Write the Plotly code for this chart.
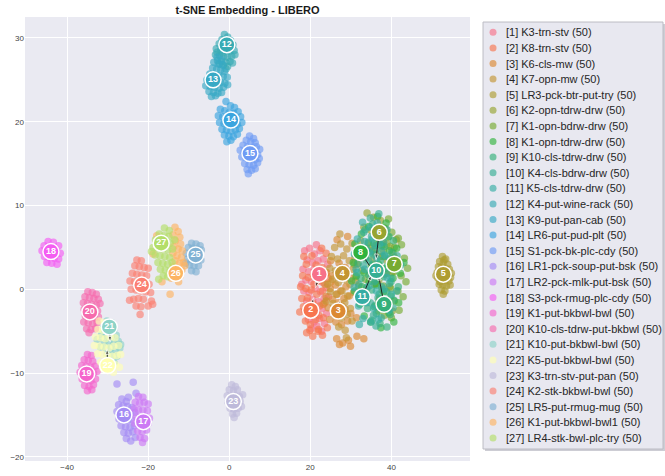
import math
import plotly.graph_objects as go

FONT = "Liberation Sans, Arial, sans-serif"

task_names = [
    "K3-trn-stv", "K8-trn-stv", "K6-cls-mw", "K7-opn-mw", "LR3-pck-btr-put-try",
    "K2-opn-tdrw-drw", "K1-opn-bdrw-drw", "K1-opn-tdrw-drw", "K10-cls-tdrw-drw",
    "K4-cls-bdrw-drw", "K5-cls-tdrw-drw", "K4-put-wine-rack", "K9-put-pan-cab",
    "LR6-put-pud-plt", "S1-pck-bk-plc-cdy", "LR1-pck-soup-put-bsk", "LR2-pck-mlk-put-bsk",
    "S3-pck-rmug-plc-cdy", "K1-put-bkbwl-bwl", "K10-cls-tdrw-put-bkbwl", "K10-put-bkbwl-bwl",
    "K5-put-bkbwl-bwl", "K3-trn-stv-put-pan", "K2-stk-bkbwl-bwl", "LR5-put-rmug-mug",
    "K1-put-bkbwl-bwl1", "LR4-stk-bwl-plc-try"]
sample_counts = [50] * 27

pts_01 = [(18.6,4.6),(19.8,4.9),(21.0,4.2),(22.4,4.6),(19.2,3.5),(20.5,3.2),(21.9,3.4),(23.2,3.6),
          (18.2,2.4),(19.6,2.1),(20.9,2.4),(22.6,2.2),(23.8,1.9),(18.9,1.1),(20.3,0.9),(21.7,1.2),(23.1,0.8),
          (18.4,-0.2),(19.7,-0.4),(21.2,0.1),(22.5,-0.3),(23.9,0.2),(19.1,-1.4),(20.6,-1.2),(22.0,-1.5),(23.4,-1.1),
          (18.7,-2.6),(20.1,-2.4),(21.5,-2.8),(22.9,-2.3),(24.0,-2.9),(19.5,-3.6),(20.9,-3.9),(22.3,-3.5),(23.5,-4.1),
          (20.2,-4.7),(21.6,-4.4),(22.8,-5.0),(24.3,3.0),(24.5,-0.9),(21.5,5.3),(17.9,0.6)]
pts_02 = [(22.8,4.9),(23.9,4.3),(20.4,4.0),(19.0,3.0),(21.4,2.9),(22.9,2.6),(18.1,1.6),(19.5,1.4),(20.8,1.7),(22.2,1.0),
          (17.6,0.3),(18.9,0.1),(20.2,-0.1),(21.6,-0.6),(23.0,-0.2),(17.9,-1.1),(19.3,-1.0),(20.7,-1.7),(22.3,-2.0),(23.6,-1.6),
          (18.3,-2.1),(19.8,-2.9),(21.1,-2.2),(22.1,-3.1),(23.2,-3.4),(18.8,-3.8),(20.0,-4.2),(21.3,-3.6),(19.1,-5.2),(20.6,-5.6),
          (22.0,-4.8),(23.0,-5.5),(24.2,-4.6),(17.4,-2.7),(21.9,-5.0),(19.9,-4.9),(18.4,3.9),(24.4,1.3),(20.9,0.6),(19.6,-1.9)]
pts_03 = [(24.0,2.0),(25.3,1.6),(26.6,1.9),(27.9,1.4),(23.6,0.6),(24.9,0.1),(26.2,0.5),(27.5,-0.2),(28.8,0.3),
          (23.9,-0.9),(25.5,-1.2),(26.9,-1.6),(28.3,-1.1),(29.6,-0.8),(24.4,-2.2),(25.8,-2.6),(27.2,-2.9),(28.6,-2.4),
          (30.0,-2.9),(24.8,-3.6),(26.3,-3.9),(27.7,-4.2),(29.2,-3.8),(31.4,-3.4),(25.0,3.4),(27.1,3.1),(28.6,2.6),
          (23.2,-1.8),(26.6,-0.6),(25.1,0.9),(27.8,-2.0),(29.8,1.3),
          (26.5,-5.9),(28.0,-6.4),(29.4,-6.1),(27.2,-6.6),(29.9,-6.8),(31.5,-5.6),(33.2,-5.9),(26.6,5.9),(29.2,6.3)]
pts_04 = [(26.0,5.0),(27.5,5.4),(29.0,4.8),(30.3,5.5),(25.2,3.9),(26.7,3.6),(28.2,4.0),(29.6,3.4),(31.0,3.8),
          (24.8,2.5),(26.2,2.2),(27.7,2.6),(29.1,2.0),(30.5,2.4),(25.5,1.2),(26.9,0.8),(28.4,1.1),(29.8,0.6),(31.2,1.0),
          (24.9,-0.3),(26.4,-0.6),(27.8,-0.2),(29.2,-0.8),(30.7,-0.4),(25.6,-1.7),(27.0,-2.0),(28.5,-1.6),(29.9,-2.3),
          (26.2,-3.1),(27.7,-3.4),(29.1,-3.0),(30.3,-3.8),(27.0,-4.5),(28.6,-4.9),(24.3,0.6),(32.0,-1.2),(31.6,3.0),
          (27.3,6.6),(23.9,-1.4),(28.9,-5.8)]
pts_05 = [(52.6,3.9),(53.4,3.6),(51.9,3.3),(52.8,3.2),(53.9,3.0),(51.6,2.7),(52.4,2.6),(53.3,2.5),(54.3,2.4),
          (51.3,2.0),(52.2,1.9),(53.1,1.8),(54.0,1.7),(54.8,1.9),(51.5,1.3),(52.4,1.2),(53.3,1.1),(54.2,1.0),
          (51.8,0.6),(52.7,0.5),(53.6,0.4),(54.5,0.5),(52.3,-0.1),(53.2,-0.2),(52.8,-0.6),(53.0,3.5),(52.0,0.9),
          (53.8,2.1),(51.0,1.6),(54.6,1.4)]
pts_06 = [(34.0,9.1),(35.6,8.6),(37.3,8.2),(33.2,7.4),(35.0,7.0),(36.8,6.8),(38.6,7.2),(32.4,5.8),(34.3,5.5),
          (36.1,5.2),(37.9,5.6),(39.7,5.1),(41.2,5.9),(31.6,4.1),(33.5,3.8),(35.3,3.5),(37.2,3.9),(39.0,3.4),
          (40.8,3.8),(30.8,3.0),(32.8,2.2),(34.6,1.9),(36.5,2.4),(38.3,1.8),(40.1,2.0),(31.9,0.4),(33.9,0.1),
          (35.8,0.6),(37.7,-0.1),(39.6,0.3),(31.2,1.5),(37.0,-1.3),(38.9,-2.0),(40.2,-2.6),(36.9,1.1),(35.1,4.6),(38.0,4.7)]
pts_07 = [(38.2,7.3),(40.1,6.8),(41.7,6.1),(37.0,5.9),(38.9,5.4),(40.7,5.0),(42.5,5.3),(36.1,4.2),(37.9,3.9),
          (39.7,3.6),(41.5,3.2),(43.2,3.7),(35.3,2.6),(37.1,2.2),(38.9,1.9),(40.6,2.1),(42.4,1.6),(43.6,0.9),
          (36.2,0.7),(38.0,0.4),(39.8,0.1),(41.6,-0.2),(42.9,-0.9),(37.1,-1.1),(38.9,-1.6),(40.7,-1.4),(41.9,-2.5),
          (38.3,-3.1),(40.0,-3.4),(34.6,4.9),(39.3,8.4),(44.0,2.5),(33.6,1.2),(36.8,-2.6),(39.2,6.2),(40.4,4.3)]
pts_08 = [(31.0,5.4),(32.6,6.6),(34.4,7.5),(36.6,8.7),(38.7,7.9),(30.6,3.2),(32.2,3.9),(33.9,4.6),(35.7,5.5),
          (37.6,5.2),(39.5,4.6),(41.3,4.9),(43.1,3.2),(31.4,1.6),(33.2,2.0),(35.0,2.8),(36.8,3.0),(38.6,2.5),
          (40.4,1.3),(42.2,1.9),(30.9,-0.2),(32.7,0.3),(34.5,0.9),(36.3,0.5),(38.1,-0.3),(39.9,-0.8),(41.8,-1.6),
          (32.2,-1.8),(34.0,-1.3),(35.8,-2.1),(37.6,-1.7),(39.4,-2.8),(34.9,-3.9),(37.4,-4.6),(33.3,-3.2),
          (40.6,-3.9),(36.0,6.9),(30.2,1.0)]
pts_09 = [(33.5,7.1),(35.4,7.8),(37.5,7.0),(39.4,6.3),(32.4,5.0),(34.3,5.6),(36.2,4.8),(38.2,5.1),(40.1,4.4),
          (31.8,3.1),(33.6,3.6),(35.4,3.0),(37.3,3.4),(39.1,2.8),(41.0,2.6),(32.5,1.3),(34.4,1.7),(36.2,1.1),
          (38.0,1.5),(39.9,0.9),(41.7,0.3),(33.3,-0.5),(35.1,-0.1),(37.0,-0.6),(38.8,-0.3),(40.6,-1.3),(34.1,-2.3),
          (36.0,-1.9),(37.9,-2.4),(39.7,-3.0),(35.2,-3.7),(37.2,-4.1),(38.9,-4.5),(36.6,2.6),(38.4,3.9),(34.8,4.3),
          (40.5,5.8),(36.3,-2.9)]
pts_10 = [(34.8,8.5),(36.9,9.0),(33.2,6.8),(35.1,6.3),(37.0,6.6),(38.9,7.1),(31.9,4.4),(33.8,4.9),(35.7,4.1),
          (37.6,4.5),(39.5,3.7),(41.4,4.0),(31.3,2.4),(33.1,2.8),(35.0,2.1),(36.9,2.6),(38.7,2.0),(40.6,2.4),
          (42.3,2.9),(32.0,0.6),(33.9,0.2),(35.8,0.9),(37.6,0.3),(39.5,0.7),(41.3,-0.2),(33.0,-1.2),(34.8,-1.6),
          (36.7,-1.0),(38.6,-1.8),(40.4,-2.2),(35.6,-3.1),(37.5,-3.4),(36.2,-4.4),(34.4,3.4),(38.1,5.6),(39.9,1.3)]
pts_11 = [(32.9,8.0),(34.7,7.4),(36.5,7.9),(31.6,6.0),(33.4,5.7),(35.3,6.0),(37.1,5.4),(30.9,4.2),(32.7,3.8),
          (34.6,4.5),(36.4,3.7),(38.3,4.1),(40.2,3.3),(31.5,2.0),(33.4,2.4),(35.2,1.7),(37.1,2.2),(38.9,1.4),
          (30.8,0.2),(32.6,-0.3),(34.5,0.4),(36.3,-0.2),(38.2,0.0),(40.0,-0.6),(31.9,-2.0),(33.8,-1.6),(35.6,-2.3),
          (37.5,-1.9),(33.0,-3.5),(34.9,-3.9),(36.8,-3.6),(35.9,5.2),(32.1,-4.2),(39.4,-2.5)]
pts_12 = [(-1.2,30.4),(-0.4,30.1),(-1.8,29.8),(0.3,29.7),(-2.5,29.3),(-1.3,29.2),(-0.2,29.0),(0.9,29.2),
          (-3.2,28.7),(-2.1,28.6),(-1.0,28.5),(0.1,28.4),(1.2,28.5),(-3.4,28.0),(-2.4,27.9),(-1.4,27.8),
          (-0.4,27.7),(0.6,27.8),(-2.9,27.3),(-1.9,27.2),(-0.9,27.1),(0.2,27.2),(-1.5,26.7),(-0.4,26.6),
          (-2.4,26.9),(0.8,27.0),(-0.8,26.3),(-3.0,28.3),(1.4,28.0),(-1.7,28.2)]
pts_13 = [(-3.0,27.7),(-2.0,27.4),(-3.8,27.1),(-2.7,26.9),(-1.6,26.8),(-4.1,26.4),(-3.1,26.3),(-2.1,26.2),
          (-1.2,26.0),(-4.8,25.7),(-3.7,25.6),(-2.6,25.5),(-1.5,25.4),(-0.5,25.3),(-5.5,25.0),(-4.4,24.9),
          (-3.3,24.8),(-2.2,24.7),(-1.1,24.6),(-5.8,24.3),(-4.7,24.2),(-3.6,24.1),(-2.5,24.0),(-1.4,24.1),
          (-0.4,24.4),(-5.0,23.6),(-3.9,23.5),(-2.8,23.4),(-4.4,23.0),(-1.9,23.5),(-3.4,23.1)]
pts_14 = [(-0.8,22.4),(0.3,21.9),(1.3,21.7),(-2.2,21.5),(-1.1,21.3),(0.0,21.1),(1.1,21.0),(2.2,21.2),
          (-2.7,20.7),(-1.6,20.6),(-0.5,20.4),(0.6,20.3),(1.7,20.4),(2.8,20.6),(-2.4,19.9),(-1.3,19.8),
          (-0.2,19.7),(0.9,19.6),(2.0,19.7),(3.1,19.9),(-1.8,19.1),(-0.7,19.0),(0.4,18.9),(1.5,19.0),
          (2.5,19.2),(-1.2,18.4),(-0.1,18.3),(1.0,18.2),(2.0,18.5),(0.4,17.8),(-0.6,17.6)]
pts_15 = [(5.0,18.3),(6.0,18.0),(4.2,17.8),(5.3,17.6),(6.4,17.5),(3.4,17.2),(4.5,17.0),(5.6,16.9),(6.7,17.0),
          (7.5,16.7),(2.7,16.6),(3.7,16.4),(4.8,16.3),(5.9,16.2),(7.0,16.1),(3.1,15.8),(4.2,15.7),(5.3,15.6),
          (6.4,15.5),(7.4,15.6),(3.8,15.0),(4.9,14.9),(6.0,14.8),(7.0,15.1),(4.4,14.3),(5.5,14.2),(6.4,14.4),(4.7,13.8)]
pts_16 = [(-27.7,-11.3),(-23.7,-11.1),(-23.0,-12.4),(-24.9,-12.9),(-26.5,-13.1),(-25.4,-13.4),(-27.3,-13.8),
          (-26.2,-13.9),(-25.1,-14.0),(-24.0,-14.1),(-27.7,-14.6),(-26.6,-14.7),(-25.5,-14.8),(-24.4,-14.9),
          (-23.3,-14.7),(-27.2,-15.5),(-26.1,-15.6),(-25.0,-15.7),(-23.9,-15.6),(-26.7,-16.3),(-25.6,-16.4),
          (-24.5,-16.5),(-23.4,-16.3),(-26.0,-17.1),(-24.9,-17.2),(-23.8,-17.0),(-25.4,-17.8),(-24.3,-18.1),(-23.2,-17.7)]
pts_17 = [(-22.4,-12.8),(-21.3,-12.9),(-23.2,-13.5),(-22.1,-13.6),(-21.0,-13.5),(-20.0,-13.7),(-23.5,-14.3),
          (-22.4,-14.4),(-21.3,-14.4),(-20.2,-14.5),(-23.0,-15.2),(-21.9,-15.3),(-20.8,-15.2),(-19.7,-15.4),
          (-23.3,-16.0),(-22.2,-16.1),(-21.1,-16.2),(-20.0,-16.0),(-22.6,-16.9),(-21.5,-17.0),(-20.4,-16.8),
          (-22.0,-17.7),(-20.9,-17.8),(-21.4,-18.3)]
pts_18 = [(-44.7,5.7),(-43.4,5.6),(-45.7,5.2),(-44.5,5.1),(-43.2,5.0),(-42.1,5.2),(-46.2,4.6),(-45.1,4.5),
          (-43.9,4.4),(-42.7,4.5),(-41.7,4.3),(-45.6,3.9),(-44.4,3.8),(-43.2,3.7),(-42.1,3.6),(-45.0,3.2),
          (-43.8,3.1),(-42.5,3.0),(-44.3,4.0),(-43.0,4.8)]
pts_19 = [(-35.0,-7.8),(-34.0,-7.9),(-35.8,-8.4),(-34.8,-8.5),(-33.7,-8.6),(-36.4,-9.1),(-35.3,-9.2),
          (-34.2,-9.3),(-33.1,-9.2),(-36.8,-9.9),(-35.7,-10.0),(-34.6,-10.1),(-33.5,-10.0),(-32.6,-9.8),
          (-36.3,-10.7),(-35.2,-10.8),(-34.1,-10.9),(-33.0,-10.7),(-35.7,-11.5),(-34.6,-11.6),(-33.5,-11.4),
          (-35.0,-12.1),(-33.9,-12.0)]
pts_20 = [(-34.9,-0.3),(-33.8,-0.4),(-32.8,-0.6),(-35.6,-0.9),(-34.5,-1.0),(-33.4,-1.1),(-32.3,-1.2),
          (-36.0,-1.6),(-35.0,-1.7),(-33.9,-1.8),(-32.8,-1.9),(-31.9,-1.7),(-35.8,-2.4),(-34.7,-2.5),
          (-33.6,-2.6),(-32.5,-2.6),(-35.5,-3.2),(-34.4,-3.3),(-33.3,-3.4),(-32.3,-3.3),(-35.9,-3.9),
          (-34.8,-4.0),(-33.7,-4.1),(-32.6,-4.0),(-35.2,-4.7),(-34.1,-4.8),(-33.0,-4.7),(-34.6,-5.2)]
pts_21 = [(-30.2,-3.8),(-29.0,-4.0),(-31.0,-4.6),(-29.8,-4.7),(-28.5,-4.8),(-31.5,-5.4),(-30.3,-5.5),
          (-29.1,-5.6),(-27.9,-5.5),(-30.9,-6.2),(-29.7,-6.3),(-28.5,-6.4),(-27.4,-6.2),(-31.8,-6.9),
          (-30.5,-7.0),(-29.3,-7.1),(-28.1,-7.2),(-27.0,-7.0),(-30.1,-7.8),(-28.9,-7.9),(-27.7,-8.0),
          (-29.5,-8.6),(-28.4,-8.8),(-32.6,-6.0),(-26.8,-6.6)]
pts_22 = [(-32.1,-3.8),(-30.7,-4.0),(-32.4,-4.8),(-31.2,-4.9),(-30.0,-4.7),(-33.0,-5.7),(-31.8,-5.8),
          (-30.6,-5.9),(-29.4,-5.7),(-28.2,-5.8),(-33.3,-6.7),(-32.1,-6.8),(-30.9,-6.9),(-29.7,-7.0),
          (-28.5,-6.8),(-27.3,-6.7),(-32.5,-7.7),(-31.3,-7.8),(-30.1,-7.9),(-28.9,-8.0),(-27.7,-7.9),
          (-26.8,-7.8),(-31.7,-8.7),(-30.5,-8.8),(-29.3,-8.9),(-28.1,-9.0),(-29.9,-9.7),(-28.6,-9.9),
          (-27.1,-9.3),(-31.1,-9.5)]
pts_23 = [(0.6,-11.4),(1.5,-11.6),(0.0,-12.0),(1.0,-12.1),(2.0,-12.0),(-0.5,-12.7),(0.5,-12.8),(1.5,-12.7),
          (2.5,-12.8),(3.3,-12.6),(-0.3,-13.5),(0.7,-13.6),(1.7,-13.5),(2.7,-13.4),(0.2,-14.2),(1.2,-14.3),
          (2.2,-14.2),(3.0,-14.0),(0.8,-14.9),(1.8,-14.8),(1.2,-15.3)]
pts_24 = [(-22.8,3.5),(-21.7,3.4),(-23.3,2.8),(-22.2,2.7),(-21.0,2.6),(-20.0,2.5),(-23.9,1.9),(-22.8,1.8),
          (-21.6,1.7),(-20.4,1.6),(-24.5,1.0),(-23.4,0.9),(-22.2,0.8),(-21.0,0.7),(-19.8,0.6),(-24.2,0.0),
          (-23.0,-0.1),(-21.8,-0.2),(-20.6,-0.3),(-19.4,-0.4),(-24.6,-1.3),(-23.6,-1.2),(-22.4,-1.1),
          (-21.2,-1.2),(-19.2,-1.4),(-23.0,-2.0),(-21.8,-2.1),(-20.0,-2.0),(-22.0,-3.0),(-18.9,-1.8)]
pts_25 = [(-9.3,5.5),(-8.2,5.4),(-7.2,5.2),(-10.1,5.0),(-9.0,4.9),(-7.9,4.8),(-6.9,4.7),(-10.6,4.3),
          (-9.5,4.2),(-8.4,4.1),(-7.3,4.0),(-10.3,3.6),(-9.2,3.5),(-8.1,3.4),(-7.0,3.5),(-9.8,2.9),(-8.7,2.8),
          (-7.6,2.8),(-9.3,2.2),(-8.2,2.1),(-10.8,3.1)]
pts_26 = [(-13.4,7.4),(-12.6,6.9),(-13.9,6.5),(-12.2,6.2),(-13.3,5.8),(-12.0,5.4),(-13.7,5.1),(-12.6,4.8),
          (-11.6,4.6),(-13.9,4.3),(-12.9,4.0),(-11.8,3.8),(-13.4,3.4),(-12.3,3.1),(-11.3,3.2),(-13.9,2.7),
          (-12.8,2.5),(-11.7,2.3),(-13.2,1.8),(-12.1,1.6),(-14.3,1.3),(-16.6,0.9),(-14.6,-0.6),(-18.8,4.2),
          (-17.9,6.4),(-12.5,0.9),(-11.0,2.8)]
pts_27 = [(-16.0,7.3),(-14.8,7.0),(-17.3,6.6),(-16.1,6.4),(-14.9,6.3),(-18.2,5.9),(-17.0,5.7),(-15.8,5.6),
          (-14.6,5.5),(-18.8,5.0),(-17.6,4.9),(-16.4,4.8),(-15.2,4.7),(-14.0,4.8),(-18.3,4.1),(-17.1,4.0),
          (-15.9,3.9),(-14.7,3.8),(-17.6,3.2),(-16.4,3.1),(-15.2,3.0),(-14.1,3.2),(-17.0,2.4),(-15.8,2.3),
          (-14.6,2.2),(-16.3,1.6),(-15.2,1.5),(-17.4,1.2),(-19.2,4.5),(-13.5,5.9)]

clusters = [pts_01, pts_02, pts_03, pts_04, pts_05, pts_06, pts_07, pts_08, pts_09, pts_10,
            pts_11, pts_12, pts_13, pts_14, pts_15, pts_16, pts_17, pts_18, pts_19, pts_20,
            pts_21, pts_22, pts_23, pts_24, pts_25, pts_26, pts_27]

# label anchor positions (data coordinates)
label_x = [22.2, 20.1, 26.9, 27.9, 52.8, 37.0, 40.7, 32.4, 38.2, 36.3, 32.8, -0.6, -4.0, 0.4, 5.1,
           -26.0, -21.2, -44.0, -35.2, -34.4, -29.6, -30.0, 1.0, -21.6, -8.3, -13.2, -16.8]
label_y = [1.8, -2.5, -2.6, 1.9, 1.8, 6.8, 3.0, 4.4, -1.8, 2.2, -0.9, 29.2, 25.0, 20.2, 16.2,
           -15.0, -15.8, 4.5, -10.1, -2.7, -4.5, -9.1, -13.4, 0.5, 4.1, 1.9, 5.5]
arrow_ids = [1, 2, 3, 4, 6, 8, 9, 11, 21, 22]

x_ticks = [-40, -20, 0, 20, 40]
y_ticks = [-20, -10, 0, 10, 20, 30]


# ---------- seaborn husl palette ----------
_m = [[3.2406, -1.5372, -0.4986], [-0.9689, 1.8758, 0.0415], [0.0557, -0.2040, 1.0570]]
_refU, _refV = 0.19784, 0.46834


def _max_chroma(L, H):
    hrad = math.radians(H)
    sinH, cosH = math.sin(hrad), math.cos(hrad)
    sub1 = math.pow(L + 16, 3.0) / 1560896.0
    sub2 = sub1 if sub1 > 0.008856 else (L / 903.3)
    result = float("inf")
    for m1, m2, m3 in _m:
        top = (0.99915 * m1 + 1.05122 * m2 + 1.14460 * m3) * sub2
        rbottom = 0.86330 * m3 - 0.17266 * m2
        lbottom = 0.12949 * m3 - 0.38848 * m1
        bottom = (rbottom * sinH + lbottom * cosH) * sub2
        for t in (0.0, 1.0):
            C = L * (top - 1.05122 * t) / (bottom + 0.17266 * sinH * t)
            if 0.0 < C < result:
                result = C
    return result


def _f_inv(t):
    return t ** 3 if t ** 3 > 0.008856 else (116.0 * t - 16.0) / 903.3


def _from_linear(c):
    return 12.92 * c if c <= 0.0031308 else 1.055 * math.pow(c, 1 / 2.4) - 0.055


def husl_to_hex(h, s, l):
    C = _max_chroma(l, h) / 100.0 * s
    hr = math.radians(h)
    U, V = math.cos(hr) * C, math.sin(hr) * C
    varY = _f_inv((l + 16.0) / 116.0)
    varU = U / (13.0 * l) + _refU
    varV = V / (13.0 * l) + _refV
    Y = varY
    X = 0.0 - (9.0 * Y * varU) / ((varU - 4.0) * varV - varU * varV)
    Z = (9.0 * Y - (15.0 * varV * Y) - (varV * X)) / (3.0 * varV)
    rgb = [_from_linear(r[0] * X + r[1] * Y + r[2] * Z) for r in _m]
    rgb = [min(1.0, max(0.0, c)) for c in rgb]
    return "#%02x%02x%02x" % tuple(int(round(c * 255)) for c in rgb)


def husl_palette(n, h=.01, s=.9, l=.65):
    return [husl_to_hex(((i / n + h) % 1) * 359, s * 99, l * 99) for i in range(n)]


set3 = ["#8dd3c7", "#ffffb3", "#bebada", "#fb8072", "#80b1d3", "#fdb462", "#b3de69"]
colors = husl_palette(20) + set3

fig = go.Figure()

for i, pts in enumerate(clusters):
    fig.add_trace(go.Scatter(
        x=[p[0] for p in pts], y=[p[1] for p in pts], mode="markers",
        marker=dict(size=7.5, color=colors[i], opacity=0.65, line=dict(width=0)),
        showlegend=False, hoverinfo="skip"))

for k in arrow_ids:
    pts = clusters[k - 1]
    cx = sum(p[0] for p in pts) / len(pts)
    cy = sum(p[1] for p in pts) / len(pts)
    fig.add_trace(go.Scatter(
        x=[label_x[k - 1], cx], y=[label_y[k - 1], cy], mode="lines+markers",
        line=dict(color="#222222", width=1),
        marker=dict(symbol=["circle", "arrow"], size=[0, 6], color="#222222", angleref="previous"),
        showlegend=False, hoverinfo="skip"))

fig.add_trace(go.Scatter(
    x=label_x, y=label_y, mode="markers+text",
    text=[str(i + 1) for i in range(27)], textposition="middle center",
    textfont=dict(color="white", size=9, family=FONT, weight="bold"),
    marker=dict(size=16, color=colors, line=dict(color="white", width=1.5)),
    showlegend=False, hoverinfo="skip"))

# custom legend panel on a second, pixel-like subplot
row_h = 15.6
leg_y = [10.3 + row_h * i for i in range(27)]
fig.add_trace(go.Scatter(
    x=[10] * 27, y=leg_y, xaxis="x2", yaxis="y2", mode="markers",
    marker=dict(size=7, color=colors, opacity=0.65),
    showlegend=False, hoverinfo="skip"))
annotations = []
for i in range(27):
    annotations.append(dict(
        x=21, y=leg_y[i], xref="x2", yref="y2", xanchor="left", yanchor="middle",
        text="[%d] %s (%d)" % (i + 1, task_names[i], sample_counts[i]), showarrow=False,
        font=dict(size=11, color="#262626", family=FONT)))

axis_common = dict(showgrid=True, gridcolor="white", gridwidth=1, zeroline=False, showline=False,
                   ticks="", automargin=False, tickfont=dict(size=8, color="#444444", family=FONT))
hidden = dict(showgrid=False, zeroline=False, showticklabels=False, ticks="", automargin=False,
              showline=False, fixedrange=True)

fig.update_layout(
    width=665, height=476, autosize=False,
    margin=dict(l=25, r=2, t=17, b=15),
    paper_bgcolor="white", plot_bgcolor="#EAEAF2",
    font=dict(family=FONT),
    title=dict(text="<b>t-SNE Embedding - LIBERO</b>", x=0.34875, xref="paper", xanchor="center",
               y=1 - 10 / 476, yref="container", yanchor="middle",
               font=dict(size=11, color="#1a1a1a", family=FONT), automargin=False),
    xaxis=dict(domain=[0, 0.6975], range=[-50.4, 59.4], tickvals=x_ticks, **axis_common),
    yaxis=dict(domain=[0, 1], range=[-20.5, 32.5], tickvals=y_ticks, **axis_common),
    xaxis2=dict(domain=[0.7179, 1.0], range=[0, 180], anchor="y2", **hidden),
    yaxis2=dict(domain=[0.027, 0.9887], range=[427, 0], anchor="x2", **hidden),
    shapes=[
        dict(type="rect", xref="paper", yref="paper", x0=0.7210, x1=1.0031, y0=0.0225, y1=0.9842,
             fillcolor="#cdcdd4", line=dict(width=0), layer="below"),
        dict(type="rect", xref="paper", yref="paper", x0=0.7179, x1=1.0, y0=0.027, y1=0.9887,
             fillcolor="#E8E8F0", line=dict(color="#bcbcc4", width=1), layer="below"),
    ],
    annotations=annotations,
    showlegend=False,
)

fig.write_html("out.html")
